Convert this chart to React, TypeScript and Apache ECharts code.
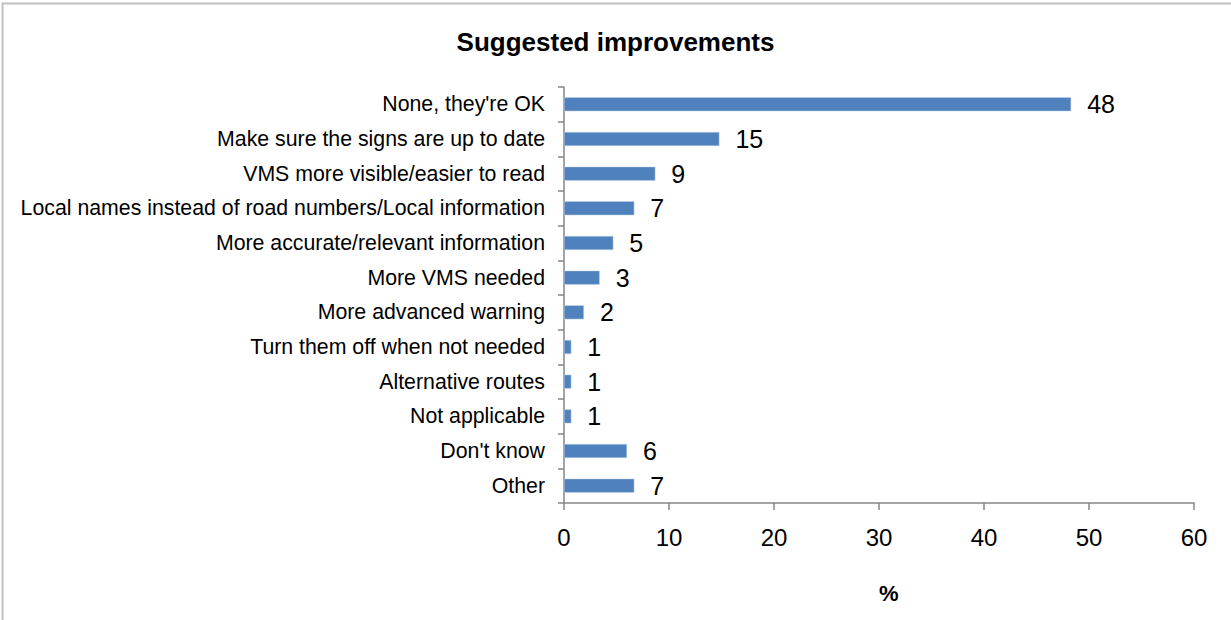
import React, { useEffect, useRef } from "react";
import * as echarts from "echarts";

// Survey answers, top to bottom
const categories = [
  "None, they're OK",
  "Make sure the signs are up to date",
  "VMS more visible/easier to read",
  "Local names instead of road numbers/Local information",
  "More accurate/relevant information",
  "More VMS needed",
  "More advanced warning",
  "Turn them off when not needed",
  "Alternative routes",
  "Not applicable",
  "Don't know",
  "Other",
];

// Share of respondents (%)
const percentages = [48.3, 14.8, 8.7, 6.7, 4.7, 3.4, 1.9, 0.7, 0.7, 0.7, 6.0, 6.7];

const xTicks = { min: 0, max: 60, interval: 10 };

const FONT = "'Liberation Sans', Arial, Helvetica, sans-serif";
const AXIS_COLOR = "#868686";

export default function App() {
  const ref = useRef<HTMLDivElement>(null);

  useEffect(() => {
    document.body.style.margin = "0";
    if (!ref.current) return;
    const chart = echarts.init(ref.current, null, { renderer: "svg" });
    chart.setOption({
      animation: false,
      backgroundColor: "#ffffff",
      textStyle: { fontFamily: FONT },
      title: {
        text: "Suggested improvements",
        left: "center",
        top: 24,
        textStyle: { fontFamily: FONT, fontSize: 26, fontWeight: "bold", color: "#000" },
      },
      graphic: [
        {
          type: "rect",
          shape: { x: 2.5, y: 3.5, width: 1240, height: 640 },
          style: { fill: "none", stroke: "#c0c0c0", lineWidth: 2 },
          silent: true,
        },
        {
          type: "text",
          left: 879,
          top: 582,
          style: { text: "%", font: `bold 22px ${FONT}`, fill: "#000" },
        },
      ],
      grid: { left: 564, right: 37, top: 87, bottom: 117, containLabel: false },
      xAxis: {
        type: "value",
        min: xTicks.min,
        max: xTicks.max,
        interval: xTicks.interval,
        splitLine: { show: false },
        axisLine: { show: true, lineStyle: { color: AXIS_COLOR, width: 1.5 } },
        axisTick: { show: true, length: 7, lineStyle: { color: AXIS_COLOR, width: 1.5 } },
        axisLabel: { fontSize: 24, color: "#000", margin: 22, fontFamily: FONT },
      },
      yAxis: {
        type: "category",
        data: categories,
        inverse: true,
        axisLine: { show: true, lineStyle: { color: AXIS_COLOR, width: 1.5 } },
        axisTick: { show: true, length: 6, alignWithLabel: false, lineStyle: { color: AXIS_COLOR, width: 1.5 } },
        axisLabel: { fontSize: 21.3, color: "#000", margin: 19, fontFamily: FONT },
      },
      series: [
        {
          type: "bar",
          data: percentages,
          barWidth: 14,
          itemStyle: { color: "#4F81BD", borderColor: "#C5D5EA", borderWidth: 0.5 },
          label: {
            show: true,
            position: "right",
            distance: 16,
            fontSize: 25,
            color: "#000",
            fontFamily: FONT,
            formatter: (p: any) => String(Math.round(p.value)),
          },
        },
      ],
    });
    return () => chart.dispose();
  }, []);

  return <div ref={ref} style={{ width: 1231, height: 620 }} />;
}
